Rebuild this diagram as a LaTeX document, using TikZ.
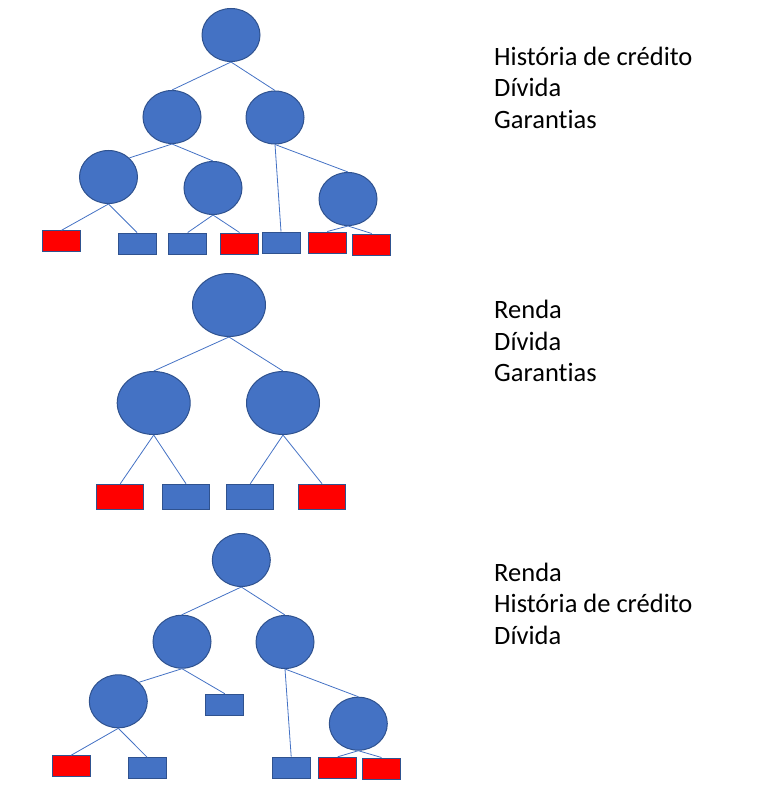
\documentclass[tikz,border=0pt]{standalone}
\usepackage{fontspec}
\setmainfont[Ligatures=NoCommon]{Carlito}
\usetikzlibrary{shapes.geometric}
\definecolor{nodeblue}{HTML}{4472C4}
\definecolor{edgeblue}{HTML}{2F528F}
\definecolor{leafred}{HTML}{FF0000}
\begin{document}
\begin{tikzpicture}[x=1pt,y=-1pt,
  oval/.style={ellipse,draw=edgeblue,fill=nodeblue,line width=1pt,inner sep=0pt,minimum width=58pt,minimum height=53pt},
  bigoval/.style={oval,minimum width=73pt,minimum height=63pt},
  bleaf/.style={rectangle,draw=edgeblue,fill=nodeblue,line width=1pt,inner sep=0pt,minimum width=38pt,minimum height=21pt},
  rleaf/.style={bleaf,fill=leafred},
  bigbleaf/.style={bleaf,minimum width=47pt,minimum height=25pt},
  bigrleaf/.style={rleaf,minimum width=47pt,minimum height=25pt},
  link/.style={draw=nodeblue,line width=0.8pt},
  label/.style={anchor=base west,inner sep=0pt,font=\fontsize{26.5}{30}\selectfont}]
\useasboundingbox (0,0) rectangle (757,797);
% ---------- Tree 1 ----------
\node[oval] (a0) at (231,35) {};
\node[oval] (a1) at (172,117) {};
\node[oval] (a2) at (275,117.5) {};
\node[oval] (a3) at (108.5,177) {};
\node[oval] (a4) at (213,188) {};
\node[oval] (a5) at (348,199) {};
\node[rleaf] (al1) at (61.5,241.3) {};
\node[bleaf] (al2) at (137,243.5) {};
\node[bleaf] (al3) at (187.7,243.5) {};
\node[rleaf] (al4) at (239.5,243.5) {};
\node[bleaf] (al5) at (281,242.5) {};
\node[rleaf] (al6) at (327.3,242.5) {};
\node[rleaf] (al7) at (371.7,244.5) {};
\draw[link] (a0.south) -- (a1.north);
\draw[link] (a0.south) -- (a2.north);
\draw[link] (a1.south) -- (a3.north east);
\draw[link] (a1.south) -- (a4.north);
\draw[link] (a2.south) -- (al5.north);
\draw[link] (a2.south) -- (a5.north);
\draw[link] (a3.south) -- (al1.north);
\draw[link] (a3.south) -- (al2.north);
\draw[link] (a4.south) -- (al3.north);
\draw[link] (a4.south) -- (al4.north);
\draw[link] (a5.south) -- (al6.north);
\draw[link] (a5.south) -- (al7.north);
\node[label] (t11) at (494,65.3) {História de crédito};
\node[label] (t12) at (494,96.5) {Dívida};
\node[label] (t13) at (494,128.5) {Garantias};
% ---------- Tree 2 ----------
\node[bigoval] (b0) at (229,305) {};
\node[bigoval] (b1) at (153.7,403) {};
\node[bigoval] (b2) at (283,403) {};
\node[bigrleaf] (bl1) at (120.3,496.7) {};
\node[bigbleaf] (bl2) at (186,496.7) {};
\node[bigbleaf] (bl3) at (250.3,496.7) {};
\node[bigrleaf] (bl4) at (322,496.7) {};
\draw[link] (b0.south) -- (b1.north);
\draw[link] (b0.south) -- (b2.north);
\draw[link] (b1.south) -- (bl1.north);
\draw[link] (b1.south) -- (bl2.north);
\draw[link] (b2.south) -- (bl3.north);
\draw[link] (b2.south) -- (bl4.north);
\node[label] (t21) at (494,318.3) {Renda};
\node[label] (t22) at (494,350.5) {Dívida};
\node[label] (t23) at (494,381.7) {Garantias};
% ---------- Tree 3 ----------
\node[oval] (c0) at (241.3,560) {};
\node[oval] (c1) at (182,641.7) {};
\node[oval] (c2) at (285,642) {};
\node[oval] (c3) at (118.3,701.3) {};
\node[bleaf] (cm) at (224.8,704.7) {};
\node[oval] (c5) at (358.3,723.7) {};
\node[rleaf] (cl1) at (71.2,766.2) {};
\node[bleaf] (cl2) at (147.2,768.3) {};
\node[bleaf] (cl5) at (291.2,767.7) {};
\node[rleaf] (cl6) at (337.7,767.8) {};
\node[rleaf] (cl7) at (381.5,768.5) {};
\draw[link] (c0.south) -- (c1.north);
\draw[link] (c0.south) -- (c2.north);
\draw[link] (c1.south) -- (c3.north east);
\draw[link] (c1.south) -- (cm.north);
\draw[link] (c2.south) -- (cl5.north);
\draw[link] (c2.south) -- (c5.north);
\draw[link] (c3.south) -- (cl1.north);
\draw[link] (c3.south) -- (cl2.north);
\draw[link] (c5.south) -- (cl6.north);
\draw[link] (c5.south) -- (cl7.north);
\node[label] (t31) at (494,581) {Renda};
\node[label] (t32) at (494,612.3) {História de crédito};
\node[label] (t33) at (494,644.3) {Dívida};
\end{tikzpicture}
\end{document}
